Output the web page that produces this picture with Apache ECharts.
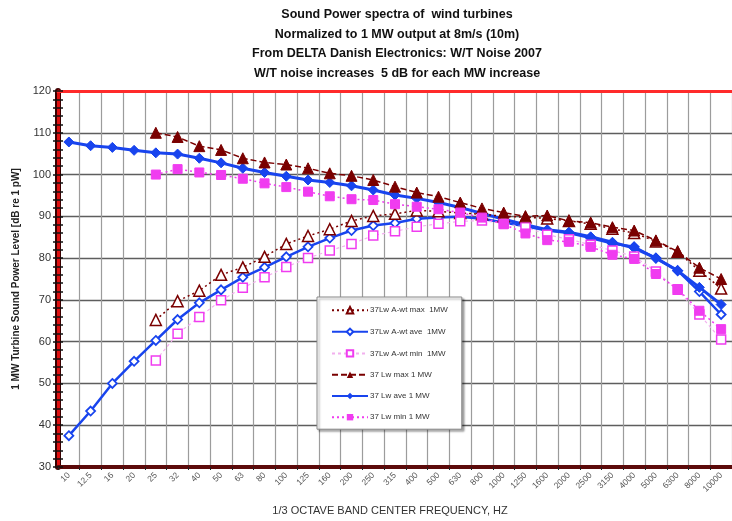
<!DOCTYPE html>
<html lang="en">
  <head>
    <meta charset="UTF-8" />
    <title>Sound Power spectra of wind turbines</title>
    <style>
      * {
        margin: 0;
        padding: 0;
      }
      #main {
        width: 732px;
        height: 521px;
      }
    </style>
  </head>
  <body>
    <div id="main"></div>
    <script src="https://cdn.jsdelivr.net/npm/echarts@6/dist/echarts.min.js"></script>
    <script>
      // 1/3 octave band centre frequencies
      var freqs = ["10", "12.5", "16", "20", "25", "32", "40", "50", "63", "80", "100", "125", "160", "200", "250", "315", "400", "500", "630", "800", "1000", "1250", "1600", "2000", "2500", "3150", "4000", "5000", "6300", "8000", "10000"];
      // A-weighted spectra
      var awMax = [null, null, null, null, 65.2, 69.7, 72.2, 76.0, 77.8, 80.3, 83.4, 85.3, 86.9, 88.9, 90.1, 90.6, 91.4, 91.2, 90.8, 90.5, 90.0, 89.8, 89.5, 88.9, 88.2, 87.0, 86.0, 84.0, 81.5, 77.0, 72.7];
      var awAve = [37.5, 43.4, 50.0, 55.3, 60.3, 65.3, 69.3, 72.4, 75.4, 77.8, 80.3, 82.7, 84.8, 86.6, 87.8, 88.4, 89.4, 89.7, 89.9, 89.4, 88.5, 87.6, 86.6, 86.0, 84.8, 83.5, 82.7, 80.0, 77.0, 72.0, 66.5];
      var awMin = [null, null, null, null, 55.5, 61.9, 65.9, 69.9, 72.9, 75.4, 77.9, 80.0, 81.8, 83.4, 85.4, 86.4, 87.5, 88.2, 88.8, 89.0, 88.3, 87.4, 85.6, 84.5, 83.2, 81.8, 80.4, 76.8, 72.4, 66.5, 60.5];
      // linear (unweighted) spectra
      var lwMax = [null, null, null, null, 110.0, 109.0, 106.8, 105.9, 103.9, 102.9, 102.4, 101.5, 100.3, 99.7, 98.7, 97.1, 95.7, 94.7, 93.3, 91.9, 90.9, 90.0, 90.2, 88.9, 88.5, 87.4, 86.6, 84.2, 81.6, 77.7, 75.0];
      var lwAve = [107.8, 106.9, 106.5, 105.8, 105.2, 104.9, 103.9, 102.8, 101.5, 100.5, 99.6, 98.7, 98.1, 97.3, 96.3, 95.1, 94.3, 93.3, 92.1, 90.7, 89.3, 88.0, 86.8, 86.2, 85.1, 83.8, 82.4, 80.0, 77.0, 73.0, 68.9];
      var lwMin = [null, null, null, null, 100.0, 101.3, 100.5, 99.9, 99.0, 97.9, 97.0, 95.9, 94.8, 94.1, 93.9, 92.9, 92.3, 91.7, 90.9, 89.7, 88.1, 85.9, 84.3, 83.9, 82.7, 80.8, 79.8, 76.2, 72.6, 67.4, 63.0];

      var names = ["37Lw A-wt max  1MW", "37Lw A-wt ave  1MW", "37Lw A-wt min  1MW", "37 Lw max 1 MW", "37 Lw ave 1 MW", "37 Lw min 1 MW"];

      var blue = "#1844ee";
      var darkRed = "#7a0000";
      var magenta = "#f03cf0";

      var myChart = echarts.init(document.getElementById("main"));

      var option = {
        animation: false,
        backgroundColor: "#fff",
        textStyle: { fontFamily: "Liberation Sans, Arial, sans-serif" },
        title: {
          text: "Sound Power spectra of  wind turbines\nNormalized to 1 MW output at 8m/s (10m)\nFrom DELTA Danish Electronics: W/T Noise 2007\nW/T noise increases  5 dB for each MW increase",
          left: 392,
          top: 0,
          textAlign: "center",
          textStyle: {
            fontSize: 12.5,
            fontWeight: "bold",
            color: "#111",
            lineHeight: 19.5,
          },
        },
        legend: {
          orient: "vertical",
          left: 317,
          top: 297,
          padding: [9, 14, 8, 14],
          itemWidth: 36,
          itemHeight: 8,
          itemGap: 13.2,
          backgroundColor: "#fff",
          borderColor: "#888",
          borderWidth: 1,
          borderRadius: 0,
          shadowColor: "rgba(0,0,0,0.35)",
          shadowBlur: 2,
          shadowOffsetX: 2,
          shadowOffsetY: 2,
          textStyle: { fontSize: 8, color: "#333", padding: [0, 0, 0, -3] },
          data: names,
        },
        grid: { left: 58, right: -4, top: 91, bottom: 54 },
        xAxis: [
          {
            type: "category",
            data: freqs,
            boundaryGap: true,
            name: "1/3 OCTAVE BAND CENTER FREQUENCY, HZ",
            nameLocation: "middle",
            nameGap: 38,
            nameTextStyle: { fontSize: 11, color: "#333", padding: [0, 0, 0, -10] },
            axisLine: { lineStyle: { color: "#5c0a0a", width: 4 } },
            axisTick: { show: true, interval: 0, length: 3, lineStyle: { color: "#222" } },
            axisLabel: { interval: 0, rotate: 45, fontSize: 8.5, color: "#555", margin: 7 },
            splitLine: { show: true, interval: 0, lineStyle: { color: "#9c9c9c", width: 1.2 } },
          },
          {
            type: "category",
            data: freqs,
            position: "top",
            axisLine: { lineStyle: { color: "#ff2a2a", width: 3 } },
            axisTick: { show: false },
            axisLabel: { show: false },
            splitLine: { show: false },
          },
        ],
        yAxis: [
          {
            type: "value",
            min: 30,
            max: 120,
            interval: 10,
            name: "1 MW Turbine Sound Power Level [dB re 1 pW]",
            nameLocation: "middle",
            nameGap: 37,
            nameTextStyle: { fontSize: 10, fontWeight: "bold", color: "#222" },
            axisLine: { show: true, lineStyle: { color: "#3a0000", width: 6 } },
            axisTick: { show: true, length: 5, lineStyle: { color: "#111", width: 1.5 } },
            minorTick: { show: true, splitNumber: 5, length: 5, lineStyle: { color: "#111", width: 1.5 } },
            axisLabel: { fontSize: 11, color: "#333", margin: 7 },
            splitLine: { lineStyle: { color: "#5e5e5e", width: 1.3 } },
          },
          {
            type: "value",
            min: 30,
            max: 120,
            interval: 10,
            position: "left",
            axisLine: { show: true, lineStyle: { color: "#e01010", width: 3 } },
            axisTick: { show: true, inside: true, length: 5, lineStyle: { color: "#111", width: 1.5 } },
            minorTick: { show: true, splitNumber: 5, length: 5, lineStyle: { color: "#111", width: 1.5 } },
            axisLabel: { show: false },
            splitLine: { show: false },
          },
        ],
        series: [
          {
            name: names[1],
            type: "line",
            data: awAve,
            symbol: "diamond",
            symbolSize: 9,
            lineStyle: { color: blue, width: 2.5 },
            itemStyle: { color: "#fff", borderColor: blue, borderWidth: 1.8 },
          },
          {
            name: names[4],
            type: "line",
            data: lwAve,
            symbol: "diamond",
            symbolSize: 10,
            lineStyle: { color: blue, width: 3 },
            itemStyle: { color: blue, borderColor: blue },
          },
          {
            name: names[0],
            type: "line",
            data: awMax,
            symbol: "triangle",
            symbolSize: 11,
            lineStyle: { color: darkRed, width: 1.5, type: [2, 3] },
            itemStyle: { color: "#fff", borderColor: darkRed, borderWidth: 1.5 },
          },
          {
            name: names[2],
            type: "line",
            data: awMin,
            symbol: "rect",
            symbolSize: 9,
            lineStyle: { color: "#f2b0ee", width: 1.2, type: [3, 3] },
            itemStyle: { color: "#fff", borderColor: magenta, borderWidth: 1.5 },
          },
          {
            name: names[3],
            type: "line",
            data: lwMax,
            symbol: "triangle",
            symbolSize: 11,
            lineStyle: { color: darkRed, width: 1.5, type: [6, 3] },
            itemStyle: { color: darkRed, borderColor: darkRed },
          },
          {
            name: names[5],
            type: "line",
            data: lwMin,
            symbol: "rect",
            symbolSize: 9,
            lineStyle: { color: magenta, width: 1.5, type: [2, 3] },
            itemStyle: { color: magenta, borderColor: magenta },
          },
        ],
      };

      myChart.setOption(option);
    </script>
  </body>
</html>
